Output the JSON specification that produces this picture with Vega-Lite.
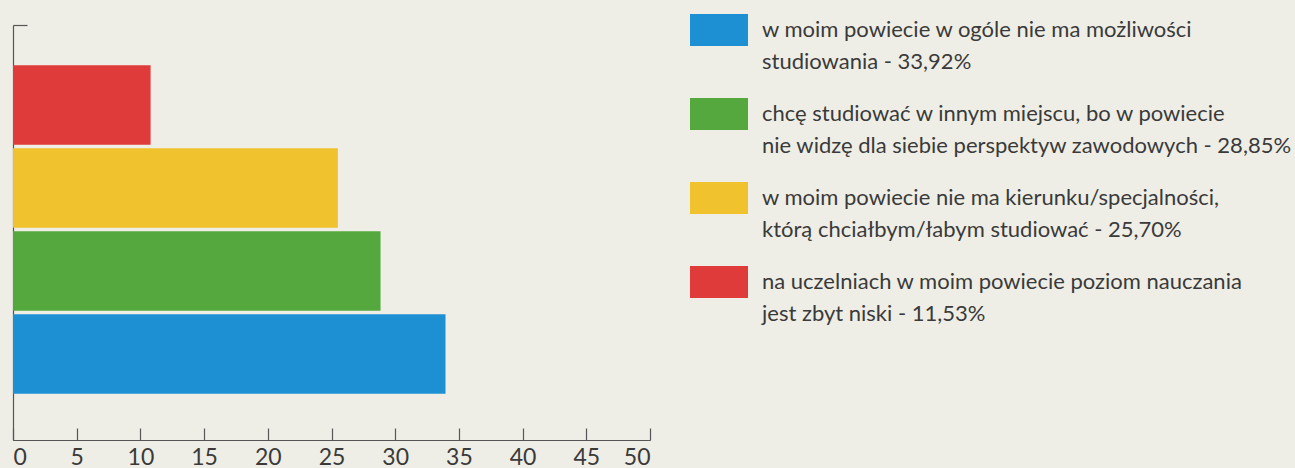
{
  "$schema": "https://vega.github.io/schema/vega-lite/v6.json",
  "width": 637,
  "height": 415,
  "autosize": "none",
  "padding": {"left": 13, "top": 25, "right": 645, "bottom": 28},
  "background": "#efeee6",
  "config": {
    "view": {"stroke": null},
    "font": "Lato",
    "style": {"guide-label": {"lineHeight": 32}}
  },
  "data": {
    "values": [
      {"kategoria": "na uczelniach w moim powiecie poziom nauczania\njest zbyt niski - 11,53%", "procent": 10.8},
      {"kategoria": "w moim powiecie nie ma kierunku/specjalności,\nktórą chciałbym/łabym studiować - 25,70%", "procent": 25.5},
      {"kategoria": "chcę studiować w innym miejscu, bo w powiecie\nnie widzę dla siebie perspektyw zawodowych - 28,85%", "procent": 28.85},
      {"kategoria": "w moim powiecie w ogóle nie ma możliwości\nstudiowania - 33,92%", "procent": 33.95}
    ]
  },
  "mark": {"type": "bar"},
  "encoding": {
    "y": {
      "field": "kategoria",
      "type": "nominal",
      "sort": [
        "na uczelniach w moim powiecie poziom nauczania\njest zbyt niski - 11,53%",
        "w moim powiecie nie ma kierunku/specjalności,\nktórą chciałbym/łabym studiować - 25,70%",
        "chcę studiować w innym miejscu, bo w powiecie\nnie widzę dla siebie perspektyw zawodowych - 28,85%",
        "w moim powiecie w ogóle nie ma możliwości\nstudiowania - 33,92%"
      ],
      "scale": {"paddingInner": 0.04, "paddingOuter": 0.52, "align": 0.465},
      "axis": {
        "title": null,
        "labels": false,
        "values": ["na uczelniach w moim powiecie poziom nauczania\njest zbyt niski - 11,53%"],
        "bandPosition": 0,
        "tickOffset": -40,
        "tickSize": -14,
        "domainColor": "#555555",
        "tickColor": "#555555",
        "domainWidth": 1.2,
        "tickWidth": 1.2
      }
    },
    "x": {
      "field": "procent",
      "type": "quantitative",
      "scale": {"domain": [0, 50], "nice": false},
      "axis": {
        "title": null,
        "values": [0, 5, 10, 15, 20, 25, 30, 35, 40, 45, 50],
        "grid": false,
        "tickSize": -12,
        "labelFontSize": 23,
        "labelColor": "#3a3a3a",
        "labelPadding": 18,
        "domainColor": "#555555",
        "tickColor": "#555555",
        "domainWidth": 1.2,
        "tickWidth": 1.2
      }
    },
    "color": {
      "field": "kategoria",
      "type": "nominal",
      "scale": {
        "domain": [
          "w moim powiecie w ogóle nie ma możliwości\nstudiowania - 33,92%",
          "chcę studiować w innym miejscu, bo w powiecie\nnie widzę dla siebie perspektyw zawodowych - 28,85%",
          "w moim powiecie nie ma kierunku/specjalności,\nktórą chciałbym/łabym studiować - 25,70%",
          "na uczelniach w moim powiecie poziom nauczania\njest zbyt niski - 11,53%"
        ],
        "range": ["#1d90d4", "#54a83d", "#f0c22d", "#df3b3a"]
      },
      "legend": {
        "orient": "none",
        "legendX": 677,
        "legendY": -24,
        "title": null,
        "padding": 0,
        "symbolType": "M-1,-0.55H1V0.55H-1Z",
        "symbolSize": 3364,
        "symbolStrokeWidth": 0,
        "symbolOpacity": 1,
        "labelFontSize": 22,
        "labelColor": "#3a3a3a",
        "labelLimit": 700,
        "labelOffset": 14,
        "rowPadding": 12,
        "labelExpr": "split(datum.label, '\\n')"
      }
    }
  }
}
